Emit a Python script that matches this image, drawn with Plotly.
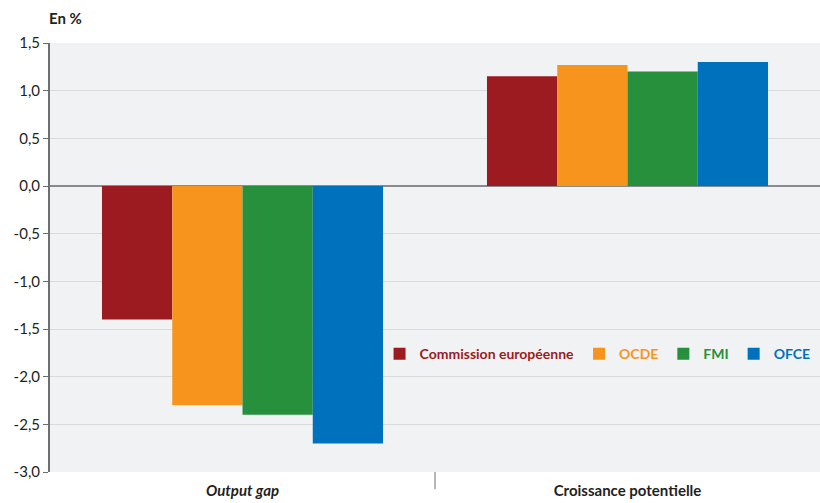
import plotly.graph_objects as go

categories = ["Output gap", "Croissance potentielle"]
category_labels = ["<b><i>Output gap</i></b>", "<b>Croissance potentielle</b>"]
series_names = ["Commission européenne", "OCDE", "FMI", "OFCE"]
series_colors = ["#9b1b20", "#f7941e", "#26903c", "#0071bc"]
ce_values = [-1.4, 1.15]
ocde_values = [-2.3, 1.27]
fmi_values = [-2.4, 1.2]
ofce_values = [-2.7, 1.3]
all_values = [ce_values, ocde_values, fmi_values, ofce_values]
y_ticks = [1.5, 1.0, 0.5, 0.0, -0.5, -1.0, -1.5, -2.0, -2.5, -3.0]
y_ticktext = [f"{v:.1f}".replace(".", ",") for v in y_ticks]

fig = go.Figure()
for name, color, vals in zip(series_names, series_colors, all_values):
    fig.add_trace(go.Bar(
        x=categories, y=vals,
        name=f"<b><span style='color:{color}'>{name}</span></b>",
        marker=dict(color=color, line=dict(width=0)),
    ))

fig.update_layout(
    width=820, height=503,
    margin=dict(l=50, r=0, t=43, b=31, autoexpand=False),
    paper_bgcolor="white",
    plot_bgcolor="#f1f2f4",
    barmode="group",
    bargap=0.27,
    bargroupgap=0,
    font=dict(family="Lato", size=14, color="#231f20"),
    showlegend=True,
    legend=dict(
        orientation="h", x=0.428, y=0.275, xanchor="left", yanchor="middle",
        bgcolor="rgba(0,0,0,0)", font=dict(size=14),
        itemwidth=30, tracegroupgap=0,
    ),
    xaxis=dict(
        type="category", range=[-0.5, 1.5],
        tickvals=categories, ticktext=category_labels,
        ticks="", showgrid=False, showline=False, zeroline=False,
        ticklabelstandoff=8,
        tickfont=dict(size=15, color="#231f20"),
    ),
    yaxis=dict(
        range=[-3.0, 1.5], tickvals=y_ticks, ticktext=y_ticktext,
        showgrid=True, gridcolor="#d9dadd", gridwidth=1,
        zeroline=True, zerolinecolor="#8a8b8e", zerolinewidth=2,
        showline=True, linecolor="#6d6e71", linewidth=2,
        ticks="outside", ticklen=5, tickcolor="#6d6e71",
        tickfont=dict(size=15, color="#231f20"),
    ),
    annotations=[dict(
        text="<b>En %</b>", xref="paper", yref="paper", x=-0.004, y=1.0,
        yshift=25, xanchor="left", yanchor="middle", showarrow=False,
        font=dict(size=15, color="#231f20"),
    )],
    shapes=[dict(
        type="line", xref="x", yref="paper", x0=0.5, x1=0.5, y0=0, y1=-0.04,
        line=dict(color="#6d6e71", width=1),
    )],
)

fig.write_html("out.html", config={"displayModeBar": False},
               post_script="document.body.style.margin='0';")
